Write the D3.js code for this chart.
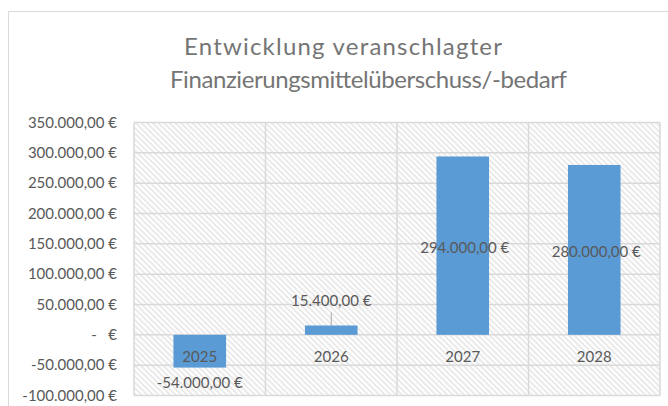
<!DOCTYPE html>
<html>
<head>
<meta charset="utf-8">
<script src="https://cdn.jsdelivr.net/npm/d3@7"></script>
<style>
	body { margin: 0; background: #fff; }
	svg { display: block; font-family: Lato, "Open Sans", sans-serif; }
</style>
</head>
<body>
<div id="chart"></div>
<script>
// values
var years = ["2025", "2026", "2027", "2028"],
	amounts = [-54000, 15400, 294000, 280000],
	yTicks = [-100000, -50000, 0, 50000, 100000, 150000, 200000, 250000, 300000, 350000],
	titleLines = ["Entwicklung veranschlagter", "Finanzierungsmittelüberschuss/-bedarf"];

var width = 668,
	height = 406,
	PLOT_LEFT = 134,
	PLOT_RIGHT = 660,
	PLOT_TOP = 122.5,
	PLOT_BOTTOM = 395.5,
	BAR_SHARE = 0.4,
	TEXT_COLOR = "#595959",
	GRID_COLOR = "#d9d9d9",
	BAR_COLOR = "#5b9bd5";

// where each title line starts and how wide it runs
var TITLE_X = [184, 170],
	TITLE_W = [318, 397];

var svg = d3.select("#chart").append("svg")
	.attr("width", width)
	.attr("height", height);

// diagonal hatch for the plot area
var pattern = svg.append("defs").append("pattern")
	.attr("id", "hatch")
	.attr("patternUnits", "userSpaceOnUse")
	.attr("width", 4)
	.attr("height", 4)
	.attr("patternTransform", "rotate(-45)");
pattern.append("rect").attr("width", 4).attr("height", 4).style("fill", "#fff");
pattern.append("line")
	.attr("x1", 1).attr("y1", 0).attr("x2", 1).attr("y2", 4)
	.style("stroke", "#dcdcdc")
	.style("stroke-width", 1.2);

// chart frame (runs off the right and bottom)
svg.append("rect")
	.attr("x", 8.5).attr("y", 11.5)
	.attr("width", 800).attr("height", 600)
	.style("fill", "#fff")
	.style("stroke", GRID_COLOR);

var x = d3.scaleBand().domain(years).range([PLOT_LEFT, PLOT_RIGHT]).padding(0);
var y = d3.scaleLinear().domain([d3.min(yTicks), d3.max(yTicks)]).range([PLOT_BOTTOM, PLOT_TOP]);

var fmt = function(v) {
	if (v === 0) return "-   €";
	var s = d3.format(",.2f")(v);
	// german separators
	s = s.replace(/,/g, "#").replace(/\./g, ",").replace(/#/g, ".");
	return s.replace("−", "-") + " €";
};

// title
svg.append("g").selectAll("text")
	.data(titleLines)
	.enter()
	.append("text")
	.attr("x", function(d, i) { return TITLE_X[i]; })
	.attr("y", function(d, i) { return 55 + i * 33; })
	.attr("textLength", function(d, i) { return TITLE_W[i]; })
	.attr("lengthAdjust", "spacing")
	.style("font-size", "24px")
	.style("fill", "#757575")
	.text(function(d) { return d; });

// plot background
svg.append("rect")
	.attr("x", PLOT_LEFT).attr("y", PLOT_TOP)
	.attr("width", PLOT_RIGHT - PLOT_LEFT).attr("height", PLOT_BOTTOM - PLOT_TOP)
	.style("fill", "url(#hatch)");

// gridlines
svg.append("g").selectAll("line")
	.data(yTicks)
	.enter()
	.append("line")
	.attr("x1", PLOT_LEFT).attr("x2", PLOT_RIGHT)
	.attr("y1", function(d) { return y(d); })
	.attr("y2", function(d) { return y(d); })
	.style("stroke", GRID_COLOR)
	.style("stroke-width", 1.5);

// vertical category separators
svg.append("g").selectAll("line")
	.data(years.concat(["end"]))
	.enter()
	.append("line")
	.attr("x1", function(d, i) { return i < years.length ? x(d) : PLOT_RIGHT; })
	.attr("x2", function(d, i) { return i < years.length ? x(d) : PLOT_RIGHT; })
	.attr("y1", PLOT_TOP).attr("y2", PLOT_BOTTOM)
	.style("stroke", GRID_COLOR)
	.style("stroke-width", 1.5);

// y axis labels
svg.append("g").selectAll("text")
	.data(yTicks)
	.enter()
	.append("text")
	.attr("x", 117)
	.attr("y", function(d) { return y(d) + 5; })
	.attr("text-anchor", "end")
	.attr("xml:space", "preserve")
	.style("white-space", "pre")
	.style("font-size", "15px")
	.style("fill", TEXT_COLOR)
	.text(function(d) { return fmt(d); });

var data = years.map(function(d, i) { return { year: d, value: amounts[i] }; });
var barW = x.bandwidth() * BAR_SHARE;

// bars
svg.append("g").selectAll("rect")
	.data(data)
	.enter()
	.append("rect")
	.attr("x", function(d) { return x(d.year) + (x.bandwidth() - barW) / 2; })
	.attr("width", barW)
	.attr("y", function(d) { return y(Math.max(0, d.value)); })
	.attr("height", function(d) { return Math.abs(y(d.value) - y(0)); })
	.style("fill", BAR_COLOR);

// category labels just below the zero line
svg.append("g").selectAll("text")
	.data(years)
	.enter()
	.append("text")
	.attr("x", function(d) { return x(d) + x.bandwidth() / 2; })
	.attr("y", y(0) + 27)
	.attr("text-anchor", "middle")
	.style("font-size", "15px")
	.style("fill", TEXT_COLOR)
	.text(function(d) { return d; });

// data labels: below for negatives, above for small, centred for the tall bars
var labelY = function(d) {
	if (d.value < 0) return y(d.value) + 20;
	if (y(0) - y(d.value) < 30) return y(d.value) - 19;
	return (y(0) + y(d.value)) / 2 + 7;
};

svg.append("g").selectAll("text")
	.data(data)
	.enter()
	.append("text")
	.attr("x", function(d) { return x(d.year) + x.bandwidth() / 2 + (d.value > 100000 ? 2 : 0); })
	.attr("y", labelY)
	.attr("text-anchor", "middle")
	.style("font-size", "15px")
	.style("fill", TEXT_COLOR)
	.text(function(d) { return fmt(d.value); });

// leader line for the small 2026 bar
var small = data.filter(function(d) { return d.value > 0 && y(0) - y(d.value) < 30; });
svg.append("g").selectAll("line")
	.data(small)
	.enter()
	.append("line")
	.attr("x1", function(d) { return x(d.year) + x.bandwidth() / 2; })
	.attr("x2", function(d) { return x(d.year) + x.bandwidth() / 2; })
	.attr("y1", function(d) { return y(d.value) - 13; })
	.attr("y2", function(d) { return y(d.value); })
	.style("stroke", "#a6a6a6")
	.style("stroke-width", 1);
</script>
</body>
</html>
